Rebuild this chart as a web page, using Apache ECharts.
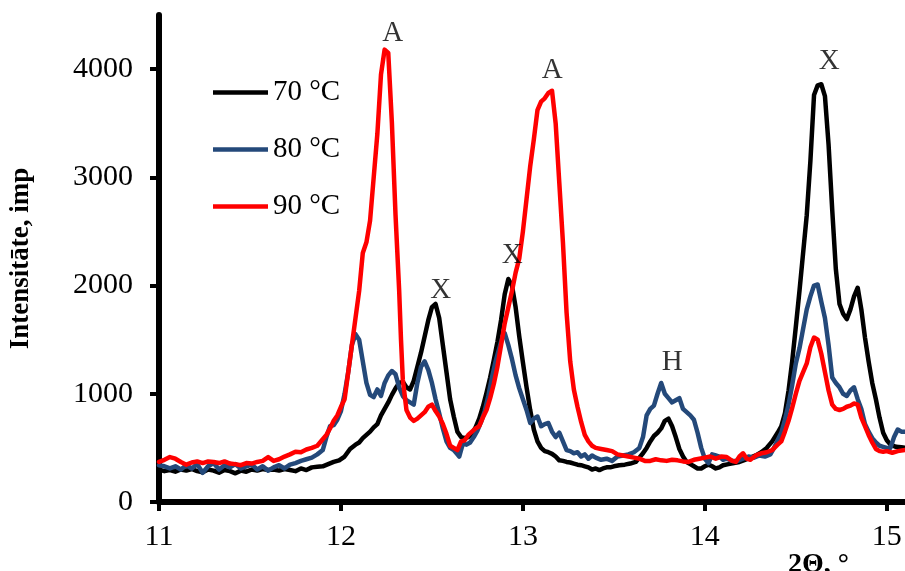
<!DOCTYPE html>
<html><head><meta charset="utf-8">
<script src="https://cdn.jsdelivr.net/npm/echarts@6/dist/echarts.min.js"></script>
<style>html,body{margin:0;padding:0;background:#fff}#c{width:905px;height:571px}</style>
</head><body><div id="c"></div>
<script>
// ---- data ----
const seriesNames = ["70 °C", "80 °C", "90 °C"];
const xTicks = [11, 12, 13, 14, 15];
const yTicks = [0, 1000, 2000, 3000, 4000];

const s70 = [[11.00,300],[11.03,285],[11.06,295],[11.09,280],[11.12,300],[11.15,290],[11.18,305],[11.21,285],[11.24,275],[11.27,300],[11.30,290],[11.33,270],[11.36,295],[11.39,285],[11.42,265],[11.45,290],[11.48,280],[11.51,300],[11.54,290],[11.57,305],[11.60,295],[11.63,300],[11.66,290],[11.69,305],[11.72,295],[11.75,285],[11.78,310],[11.81,295],[11.84,320],[11.87,325],[11.90,330],[11.93,350],[11.96,370],[11.99,385],[12.02,420],[12.05,490],[12.08,530],[12.10,550],[12.12,590],[12.14,620],[12.16,650],[12.18,690],[12.20,720],[12.22,800],[12.24,860],[12.26,920],[12.28,990],[12.30,1050],[12.32,1100],[12.34,1110],[12.36,1060],[12.38,1040],[12.40,1120],[12.42,1250],[12.44,1380],[12.46,1530],[12.48,1680],[12.50,1800],[12.52,1830],[12.54,1700],[12.56,1450],[12.58,1200],[12.60,950],[12.62,790],[12.64,650],[12.66,600],[12.68,590],[12.70,600],[12.72,630],[12.74,690],[12.76,770],[12.78,880],[12.80,1010],[12.82,1150],[12.84,1310],[12.86,1480],[12.88,1680],[12.90,1920],[12.92,2060],[12.94,2000],[12.96,1800],[12.98,1530],[13.00,1290],[13.02,1060],[13.04,850],[13.06,670],[13.08,560],[13.10,500],[13.12,470],[13.14,460],[13.16,445],[13.18,420],[13.20,385],[13.22,380],[13.24,370],[13.26,365],[13.28,355],[13.30,345],[13.32,340],[13.34,330],[13.36,320],[13.38,300],[13.40,310],[13.42,295],[13.44,310],[13.46,320],[13.48,320],[13.50,330],[13.53,340],[13.56,345],[13.59,355],[13.62,370],[13.64,410],[13.66,450],[13.68,500],[13.70,560],[13.72,610],[13.74,640],[13.76,680],[13.78,750],[13.80,770],[13.82,700],[13.84,600],[13.86,490],[13.88,420],[13.90,370],[13.92,350],[13.94,330],[13.96,310],[13.98,310],[14.00,330],[14.02,345],[14.04,330],[14.06,310],[14.08,320],[14.10,340],[14.13,350],[14.16,360],[14.19,370],[14.22,390],[14.25,410],[14.28,430],[14.31,460],[14.34,500],[14.37,560],[14.40,640],[14.42,700],[14.44,820],[14.46,1030],[14.48,1300],[14.50,1620],[14.52,1950],[14.54,2300],[14.56,2650],[14.58,3150],[14.60,3760],[14.62,3850],[14.64,3860],[14.66,3750],[14.68,3300],[14.70,2700],[14.72,2150],[14.74,1830],[14.76,1740],[14.78,1690],[14.80,1780],[14.82,1900],[14.84,1980],[14.86,1780],[14.88,1520],[14.90,1300],[14.92,1100],[14.94,950],[14.96,780],[14.98,640],[15.00,570],[15.02,530],[15.05,510],[15.08,505],[15.10,500]];

const s80 = [[11.00,340],[11.03,330],[11.06,310],[11.09,330],[11.12,300],[11.15,340],[11.18,310],[11.21,350],[11.24,270],[11.27,330],[11.30,360],[11.33,300],[11.36,340],[11.39,320],[11.42,350],[11.45,310],[11.48,330],[11.51,345],[11.54,300],[11.57,330],[11.60,290],[11.63,320],[11.66,340],[11.69,310],[11.72,345],[11.75,360],[11.78,380],[11.81,395],[11.84,410],[11.87,440],[11.90,480],[11.92,600],[11.94,700],[11.96,710],[11.98,760],[12.00,840],[12.02,1000],[12.04,1200],[12.06,1450],[12.08,1550],[12.10,1500],[12.12,1300],[12.14,1100],[12.16,990],[12.18,970],[12.20,1040],[12.22,980],[12.24,1100],[12.26,1170],[12.28,1210],[12.30,1180],[12.32,1060],[12.34,980],[12.36,940],[12.38,920],[12.40,900],[12.42,1100],[12.44,1250],[12.46,1300],[12.48,1220],[12.50,1100],[12.52,950],[12.54,820],[12.56,680],[12.58,560],[12.60,500],[12.62,480],[12.64,440],[12.65,420],[12.67,540],[12.69,530],[12.71,550],[12.73,600],[12.75,660],[12.77,740],[12.79,840],[12.81,980],[12.83,1150],[12.85,1300],[12.87,1420],[12.89,1540],[12.90,1560],[12.92,1450],[12.94,1320],[12.96,1170],[12.98,1050],[13.00,950],[13.02,850],[13.04,730],[13.06,770],[13.08,790],[13.10,700],[13.12,720],[13.14,730],[13.16,650],[13.18,600],[13.20,640],[13.22,560],[13.24,480],[13.26,470],[13.28,450],[13.30,460],[13.32,420],[13.34,440],[13.36,400],[13.38,430],[13.40,410],[13.43,390],[13.46,400],[13.49,380],[13.52,420],[13.55,430],[13.58,440],[13.61,460],[13.64,500],[13.66,600],[13.68,800],[13.70,860],[13.72,890],[13.74,1000],[13.76,1100],[13.78,1000],[13.80,960],[13.82,920],[13.84,940],[13.86,960],[13.88,860],[13.90,830],[13.92,800],[13.94,760],[13.96,640],[13.98,500],[14.00,400],[14.02,360],[14.04,440],[14.06,430],[14.08,420],[14.10,390],[14.12,400],[14.15,380],[14.18,380],[14.21,400],[14.24,420],[14.27,410],[14.30,430],[14.33,420],[14.36,440],[14.38,500],[14.40,570],[14.42,640],[14.44,760],[14.46,900],[14.48,1080],[14.50,1280],[14.52,1420],[14.54,1600],[14.56,1780],[14.58,1900],[14.60,2000],[14.62,2010],[14.64,1850],[14.66,1700],[14.68,1450],[14.70,1150],[14.72,1100],[14.74,1060],[14.76,1000],[14.78,980],[14.80,1030],[14.82,1060],[14.84,950],[14.86,860],[14.88,720],[14.90,650],[14.92,590],[14.94,550],[14.96,520],[14.98,510],[15.00,500],[15.02,500],[15.04,600],[15.06,670],[15.08,650],[15.10,650]];

const s90 = [[11.00,370],[11.03,390],[11.06,415],[11.09,400],[11.12,370],[11.15,345],[11.18,365],[11.21,375],[11.24,360],[11.27,375],[11.30,370],[11.33,360],[11.36,375],[11.39,355],[11.42,350],[11.45,340],[11.48,360],[11.51,355],[11.54,370],[11.57,380],[11.60,415],[11.63,380],[11.66,395],[11.69,420],[11.72,440],[11.75,465],[11.78,460],[11.81,485],[11.84,500],[11.87,520],[11.90,580],[11.92,620],[11.94,680],[11.96,750],[11.98,800],[12.00,880],[12.02,950],[12.04,1200],[12.06,1450],[12.08,1700],[12.10,1950],[12.12,2300],[12.14,2400],[12.16,2600],[12.18,3000],[12.20,3400],[12.22,3950],[12.24,4180],[12.26,4150],[12.28,3500],[12.30,2650],[12.32,1950],[12.33,1500],[12.34,1130],[12.36,850],[12.38,780],[12.40,750],[12.42,770],[12.44,800],[12.46,830],[12.48,880],[12.50,900],[12.52,840],[12.54,790],[12.56,720],[12.58,630],[12.60,520],[12.62,500],[12.64,480],[12.66,560],[12.68,570],[12.70,620],[12.72,650],[12.74,680],[12.76,700],[12.78,780],[12.80,850],[12.82,960],[12.84,1090],[12.86,1250],[12.88,1450],[12.90,1650],[12.92,1800],[12.94,1950],[12.96,2120],[12.98,2250],[13.00,2500],[13.02,2800],[13.04,3100],[13.06,3350],[13.08,3620],[13.10,3700],[13.12,3730],[13.14,3780],[13.16,3800],[13.17,3790],[13.18,3500],[13.20,2950],[13.22,2400],[13.24,1750],[13.26,1300],[13.28,1040],[13.30,880],[13.32,740],[13.34,620],[13.36,560],[13.38,520],[13.40,500],[13.43,490],[13.46,480],[13.49,470],[13.52,440],[13.55,430],[13.58,420],[13.61,410],[13.64,400],[13.67,380],[13.70,380],[13.73,395],[13.76,385],[13.79,380],[13.82,390],[13.85,385],[13.88,375],[13.91,370],[13.94,390],[13.97,400],[14.00,410],[14.03,420],[14.06,400],[14.09,420],[14.12,415],[14.15,380],[14.17,370],[14.19,420],[14.21,450],[14.23,400],[14.25,390],[14.28,430],[14.31,450],[14.34,460],[14.37,480],[14.40,530],[14.42,560],[14.44,650],[14.46,750],[14.48,870],[14.50,1000],[14.52,1120],[14.54,1200],[14.56,1280],[14.58,1430],[14.60,1520],[14.62,1500],[14.64,1370],[14.66,1200],[14.68,1030],[14.70,900],[14.72,860],[14.74,850],[14.76,860],[14.78,880],[14.80,890],[14.82,910],[14.84,900],[14.86,780],[14.88,700],[14.90,620],[14.92,550],[14.94,490],[14.96,470],[14.98,465],[15.00,470],[15.03,455],[15.06,470],[15.10,480]];

// peak annotations
const annText = ["A", "A", "X", "X", "H", "X"];
const annX = [12.284, 13.161, 12.548, 12.941, 13.82, 14.684];
const annY = [4329, 3987, 1957, 2280, 1292, 4070];

// ---- chart ----
const FONT = '"Liberation Serif", "Times New Roman", serif';
const colors = ["#000000", "#24497A", "#FF0000"];
const chart = echarts.init(document.getElementById('c'), null, {renderer: 'canvas'});
const lineSeries = [s70, s80, s90].map((d, i) => ({
  name: seriesNames[i], type: 'line', data: d, symbol: 'none', smooth: false,
  lineStyle: {color: colors[i], width: 4.5, join: 'round', cap: 'round'}, itemStyle: {color: colors[i]},
  z: 2 + i, animation: false
}));
const annSeries = {
  type: 'scatter', name: 'ann', symbolSize: 0, silent: true, z: 10,
  data: annText.map((t, i) => ({name: t, value: [annX[i], annY[i]]})),
  label: {show: true, position: 'inside', formatter: p => p.name,
    color: '#000', fontFamily: FONT, fontSize: 29}
};
chart.setOption({
  animation: false,
  backgroundColor: '#fff',
  grid: {left: 158, right: 0, top: 15, bottom: 69, containLabel: false},
  legend: {
    data: seriesNames, orient: 'vertical', left: 208, top: 73,
    itemWidth: 55, itemHeight: 14, itemGap: 28,
    textStyle: {fontFamily: FONT, fontSize: 29, color: '#000'},
    icon: 'path://M0,5 L55,5 L55,9.5 L0,9.5 Z'
  },
  xAxis: {
    type: 'value', min: 11, max: 15.1, interval: 1,
    axisLine: {show: true, onZero: false, lineStyle: {color: '#000', width: 6}},
    axisTick: {show: true, inside: false, length: 9, lineStyle: {color: '#000', width: 4}, customValues: xTicks},
    axisLabel: {customValues: xTicks, fontFamily: FONT, fontSize: 30, color: '#000', margin: 20, formatter: v => String(v)},
    splitLine: {show: false}
  },
  yAxis: {
    type: 'value', min: 0, max: 4500, interval: 1000,
    name: 'Intensitāte, imp', nameLocation: 'middle', nameGap: 124,
    nameTextStyle: {fontFamily: FONT, fontSize: 27, fontWeight: 'bold', color: '#000'},
    axisLine: {show: true, lineStyle: {color: '#000', width: 6}},
    axisTick: {show: true, inside: false, length: 9, lineStyle: {color: '#000', width: 4}, customValues: yTicks},
    axisLabel: {customValues: yTicks, fontFamily: FONT, fontSize: 30, color: '#000', margin: 26, formatter: v => String(v)},
    splitLine: {show: false}
  },
  graphic: [{
    type: 'text', left: 788, top: 551,
    style: {text: '2Θ, °', font: 'bold 28px ' + FONT, fill: '#000'}
  }],
  series: lineSeries.concat([annSeries])
});
</script></body></html>
